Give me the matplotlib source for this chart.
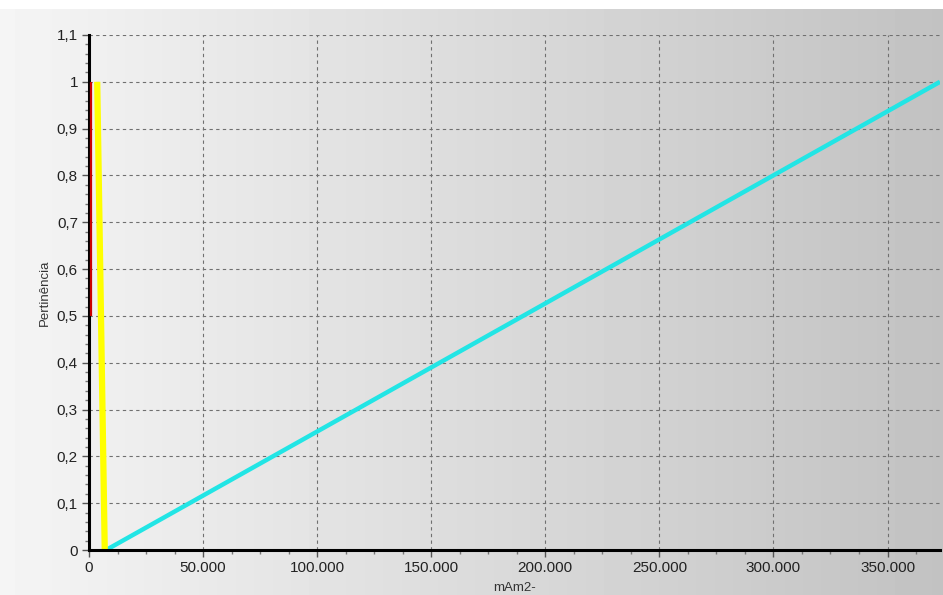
import numpy as np
import matplotlib.pyplot as plt
from matplotlib.ticker import MultipleLocator, FuncFormatter, AutoMinorLocator

# membership functions (x in mAm2-, y = pertinência)
red_x = [1000, 1000]
red_y = [1.0, 0.5]
yellow_x = [3600, 6900]
yellow_y = [1.0, 0.0]
cyan_x = [7500, 373000]
cyan_y = [0.0, 1.0]

x_max = 373000
y_max = 1.1

fig = plt.figure(figsize=(9.43, 5.95), dpi=100)
fig.patch.set_facecolor('white')

# gradient background (light on the left, darker on the right)
bg = fig.add_axes([0, 0, 1, 1 - 9 / 595])
grad = np.linspace(0.96, 0.76, 256).reshape(1, -1)
bg.imshow(grad, aspect='auto', cmap='gray', vmin=0, vmax=1,
          extent=[0, 1, 0, 1])
bg.set_axis_off()

ax = fig.add_axes([89 / 943, 1 - 550 / 595, (940 - 89) / 943, (550 - 35) / 595])
ax.set_facecolor('none')

ax.plot(cyan_x, cyan_y, color='#22e5e5', lw=3.2, solid_capstyle='butt', zorder=3)
ax.plot(yellow_x, yellow_y, color='#ffff00', lw=4.5, solid_capstyle='butt', zorder=3)
ax.plot(red_x, red_y, color='#cc0000', lw=1.6, solid_capstyle='butt', zorder=6)

ax.set_xlim(0, x_max)
ax.set_ylim(0, y_max)

ax.xaxis.set_major_locator(MultipleLocator(50000))
ax.xaxis.set_minor_locator(AutoMinorLocator(4))
ax.yaxis.set_major_locator(MultipleLocator(0.1))
ax.yaxis.set_minor_locator(AutoMinorLocator(5))

ax.xaxis.set_major_formatter(FuncFormatter(lambda v, p: f"{int(round(v)):,}".replace(',', '.')))
ax.yaxis.set_major_formatter(FuncFormatter(
    lambda v, p: f"{v:.1f}".rstrip('0').rstrip('.').replace('.', ',') if v != 0 else "0"))

ax.grid(True, which='major', color='#707070', linestyle=(0, (3, 3)), lw=0.8)
ax.set_axisbelow(True)

for s in ['top', 'right']:
    ax.spines[s].set_visible(False)
for s in ['left', 'bottom']:
    ax.spines[s].set_linewidth(2.2)
    ax.spines[s].set_zorder(5)

ax.tick_params(which='major', direction='out', length=5, width=1, color='#555555',
               labelsize=11, labelcolor='#222222', pad=3)
ax.tick_params(which='minor', direction='out', length=3, width=1, color='#777777')
for lbl in ax.get_xticklabels() + ax.get_yticklabels():
    lbl.set_family('Liberation Sans')

ax.set_xlabel('mAm2-', fontsize=9.5, family='Liberation Sans', color='#333333', labelpad=5)
ax.set_ylabel('Pertinência', fontsize=9.5, family='Liberation Sans', color='#333333', labelpad=4)

fig.savefig('out.png', dpi=100)
